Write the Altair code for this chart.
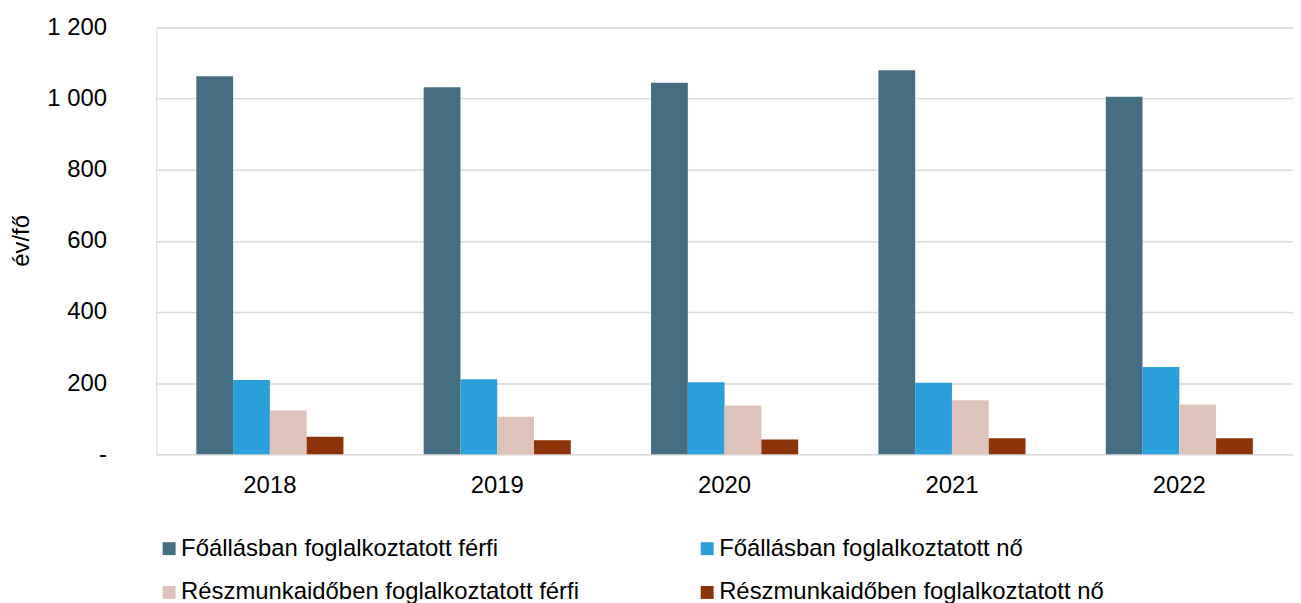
import altair as alt
import pandas as pd

years = ["2018", "2019", "2020", "2021", "2022"]
series = [
    "Főállásban foglalkoztatott férfi",
    "Főállásban foglalkoztatott nő",
    "Részmunkaidőben foglalkoztatott férfi",
    "Részmunkaidőben foglalkoztatott nő",
]
colors = ["#466E83", "#2A9FDA", "#DDC3B9", "#8C3307"]

fo_ferfi = [1063, 1032, 1045, 1080, 1005]
fo_no = [209, 211, 202, 201, 245]
resz_ferfi = [123, 105, 137, 152, 140]
resz_no = [49, 39, 41, 45, 45]

values = [fo_ferfi, fo_no, resz_ferfi, resz_no]
rows = []
for s, vals in zip(series, values):
    for y, v in zip(years, vals):
        rows.append({"year": y, "series": s, "value": v})
df = pd.DataFrame(rows)

# legend fills column by column: order so that rows read as in the reference
legend_order = [0, 2, 1, 3]
legend_domain = [series[i] for i in legend_order]
legend_range = [colors[i] for i in legend_order]

FONT = "Liberation Sans"
FS = 24

chart = alt.Chart(df).mark_bar().encode(
    x=alt.X("year:N", sort=years,
            scale=alt.Scale(paddingInner=0.353, paddingOuter=0.1765),
            axis=alt.Axis(title=None, labelAngle=0, ticks=False, domain=False,
                          labelPadding=20, labelFontSize=FS, labelFont=FONT,
                          labelColor="#000000")),
    xOffset=alt.XOffset("series:N", sort=series, scale=alt.Scale(paddingInner=0, paddingOuter=0)),
    y=alt.Y("value:Q", scale=alt.Scale(domain=[0, 1200], nice=False),
            axis=alt.Axis(title="év/fő", values=[0, 200, 400, 600, 800, 1000, 1200],
                          labelExpr="datum.value == 0 ? '-' : replace(format(datum.value, ','), ',', ' ')",
                          ticks=False, domain=False, labelPadding=50,
                          labelFontSize=FS, labelFont=FONT, labelColor="#000000",
                          titleFontSize=FS, titleFont=FONT, titleFontWeight="normal",
                          titleColor="#000000", titleX=-135, titleY=214,
                          titleAngle=-90, titleAlign="center", titleBaseline="middle",
                          gridColor="#D9D9D9", gridWidth=1.5)),
    color=alt.Color("series:N",
                    scale=alt.Scale(domain=legend_domain, range=legend_range),
                    legend=alt.Legend(title=None, orient="none", legendX=1, legendY=512,
                                      padding=0, columns=2, columnPadding=116, rowPadding=20,
                                      symbolType="square", symbolSize=169,
                                      symbolStrokeWidth=0, labelOffset=0,
                                      labelFontSize=FS, labelFont=FONT,
                                      labelColor="#000000", labelLimit=0)),
).properties(
    width=1143, height=429,
    autosize=alt.AutoSizeParams(type="none"),
    padding={"left": 149, "top": 18, "right": 0, "bottom": 148},
).configure_view(stroke=None).configure(background="#FFFFFF")

chart.save("out.html", embed_options={"renderer": "svg", "actions": False})
